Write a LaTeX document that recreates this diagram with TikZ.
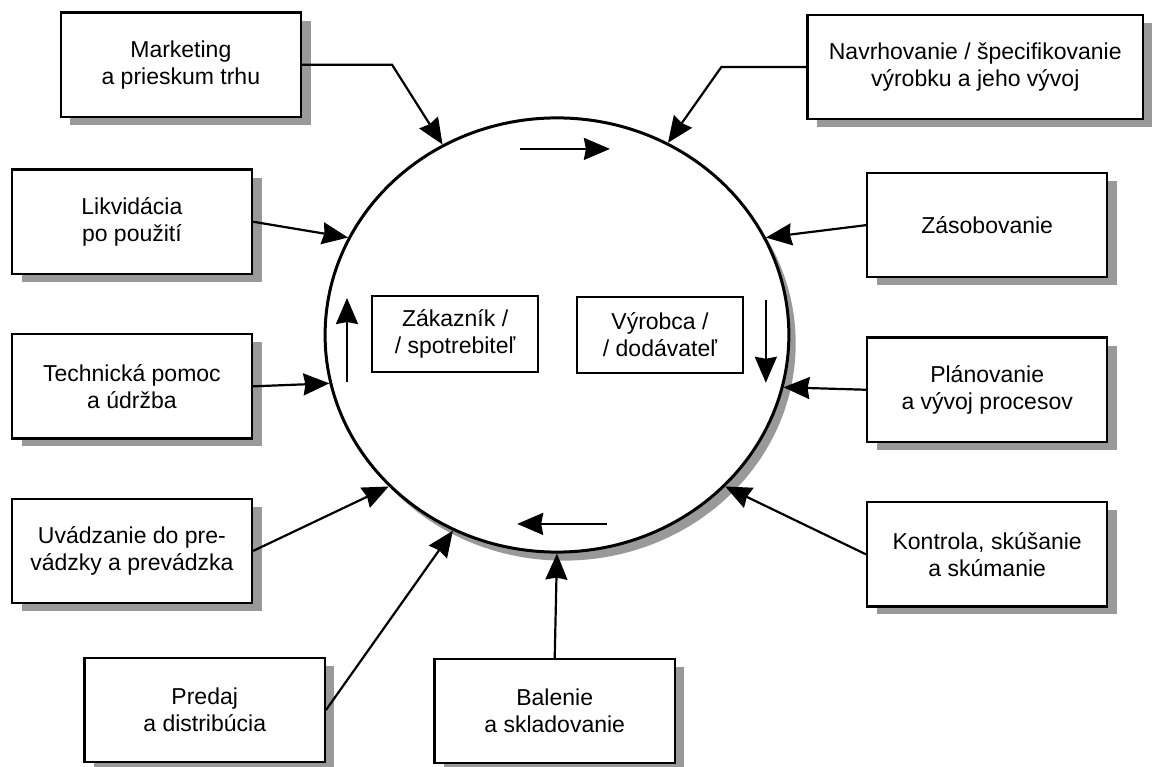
\documentclass[tikz,border=0pt]{standalone}
\usepackage{fontspec}
\setmainfont{Liberation Sans}
\usepackage{tikz}
\usetikzlibrary{arrows.meta,positioning,shapes.geometric,shadows}
\tikzset{
 box/.style={draw,fill=white,line width=1.2pt,align=center,minimum height=1.83cm,
             minimum width=4.22cm,font=\fontsize{11.5}{13.5}\selectfont,
             drop shadow={shadow xshift=0.17cm,shadow yshift=-0.14cm,fill=black!40,opacity=1}},
 arrow/.style={-{Stealth[length=13pt,width=11pt,inset=1pt]},line width=1.1pt},
 smallbox/.style={draw,fill=white,line width=0.9pt,align=center,minimum height=1.34cm,
             minimum width=2.92cm,font=\fontsize{11.5}{13.5}\selectfont}
}
\begin{document}
\begin{tikzpicture}[node distance=1.02cm]
\useasboundingbox (-9.788,-7.591) rectangle (10.456,5.887);
\node[draw,ellipse,fill=white,line width=1.5pt,minimum width=8.15cm,minimum height=7.63cm,
      drop shadow={shadow xshift=0.12cm,shadow yshift=-0.15cm,fill=black!40,opacity=1}] (circ) at (0,0) {};
\node[smallbox] (zak) at (-1.79,0.02) {Zákazník /\\/ spotrebiteľ};
\node[smallbox] (vyr) at (1.81,0) {Výrobca /\\/ dodávateľ};
\node[box] (mark) at (-6.61,4.75) {Marketing\\a prieskum trhu};
\node[box] (likv) at (-7.47,1.99) {Likvidácia\\po použití};
\node[box,below=of likv] (tech) {Technická pomoc\\a údržba};
\node[box,below=of tech] (uvad) {Uvádzanie do pre-\\vádzky a prevádzka};
\node[box] (pred) at (-6.19,-6.59) {Predaj\\a distribúcia};
\node[box] (bal) at (-0.04,-6.61) {Balenie\\a skladovanie};
\node[box,minimum width=5.9cm] (navr) at (7.35,4.71) {Navrhovanie / špecifikovanie\\výrobku a jeho vývoj};
\node[box] (zas) at (7.56,1.93) {Zásobovanie};
\node[box,below=of zas] (plan) {Plánovanie\\a vývoj procesov};
\node[box,below=of plan] (kontr) {Kontrola, skúšanie\\a skúmanie};
\draw[arrow] (mark.east)--([xshift=1.58cm]mark.east)--(circ.121);
\draw[arrow] (navr.west)--([xshift=-1.49cm]navr.west)--(circ.60);
\draw[arrow] (likv.east)--(circ.155);
\draw[arrow] (tech.east)--(circ.192);
\draw[arrow] (uvad.east)--(circ.222);
\draw[arrow] (pred.east)--(circ.242);
\draw[arrow] (bal.north)--(circ.270);
\draw[arrow] (kontr.west)--(circ.318);
\draw[arrow] (plan.west)--(circ.347);
\draw[arrow] (zas.west)--(circ.25);
\draw[arrow] (-0.65,3.27)--(0.93,3.27);
\draw[arrow] (3.67,0.62)--(3.67,-0.84);
\draw[arrow] (0.88,-3.32)--(-0.70,-3.32);
\draw[arrow] (-3.69,-0.83)--(-3.69,0.65);
\end{tikzpicture}
\end{document}
